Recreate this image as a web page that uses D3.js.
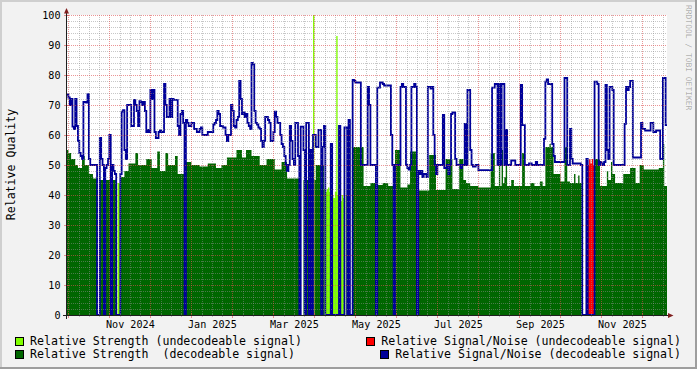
<!DOCTYPE html>
<html>
<head>
<meta charset="utf-8">
<script src="https://cdn.jsdelivr.net/npm/d3@7"></script>
<style>
  html, body { margin: 0; padding: 0; background: #f2f2f2; }
  svg { display: block; }
  text { font-family: "DejaVu Sans Mono", monospace; white-space: pre; }
</style>
</head>
<body>
<script>
// day offsets from 2024-10-01, each run holds until the next one starts
var strengthUndecoded = [[0,0],[37,44],[39,0],[180,100],[181,0],[186,45],[187,0],[188,42],[189,41],[190,42],[191,42.5],[192,41],[193,0],
  [194,40],[195,39],[196,41],[197,93],[198,40],[199,0],[200,38],[201,40],[202,39],[203,0],[204,40],[205,0],[239,20],[240,0]];

var snrUndecoded = [[0,0],[381,50],[382,52],[383,50.5],[384,52],[385,50],[386,0]];

var strengthDecoded = [[0,55],[1,54],[3,52],[6,50],[8,49],[11,53],[13,50],[16,47],[19,45.5],[22,0],[24,45],[27,0],[28,45],[32,0],[33,45],
  [36,0],[39,46],[42,48],[45,50.5],[50,54],[52,50],[58,52],[62,49],[66,54.5],[68,48],[72,54],[74,50],[79,53],[81,47],[86,0],[87,51],
  [91,50],[97,49.5],[103,50.5],[109,49],[113,50],[117,52.5],[124,55],[128,52.5],[131,55],[135,53],[141,50],[146,52],[152,48.5],[157,51],
  [161,45.5],[170,0],[173,45],[174,0],[175,45],[177,0],[178,45],[179,0],[181,45],[182,50],[186,0],[187,50],[188,0],[206,42],[207,0],
  [209,56],[217,43],[222,44],[226,0],[227,43.3],[231,44],[235,43],[239,0],[240,55],[244,42.5],[249,43.5],[251,54.5],[256,0],[257,41.5],
  [265,53.3],[270,41.7],[277,52],[282,42],[287,52],[290,45],[292,44],[295,43],[301,42.5],[310,54],[313,43],[316,50],[317,43],[318,55],
  [319,44],[320,46],[321,51],[322,43],[325,45],[327,43],[333,54],[335,43],[339,44],[342,43],[346,44.5],[348,43],[350,56],[353,57],
  [354,56],[356,47],[361,44.5],[364,56],[366,44.5],[368,44],[371,47],[372,44],[374,46.5],[375,44],[377,0],[386,52],[390,43],[395,48],
  [396,45],[398,51],[399,47],[401,44],[407,47],[412,49],[416,44],[419,50],[422,48.5],[433,49],[436,57],[437,43]];

var snrDecoded = [[0,73.5],[1,72.5],[2,70],[3,72],[4,62.8],[5,62],[6,72],[7,63],[8,58],[9,54],[10,53],[11,52],[12,71],[14,70.8],[15,73.6],
  [16,52],[17,50],[22,0],[24,59],[25,52],[26,50],[27,0],[28,49],[29,50],[30,52],[31,60],[32,0],[33,50],[34,48],[35,47],[36,0],[39,47],
  [40,67.8],[41,68.3],[42,55],[43,52],[44,70],[47,63],[49,71.7],[50,70],[51,68],[52,63],[53,71.3],[54,71],[55,70],[56,71],[57,68],
  [58,61],[59,61.7],[60,61],[61,75],[62,72],[63,75],[64,61],[65,59],[67,61],[68,61.5],[69,61],[71,77],[72,70],[73,66],[75,72],[76,66],
  [77,72],[78,71.7],[81,63],[82,60],[83,67],[84,68],[85,64],[86,0],[87,65],[88,64],[89,63],[91,64],[93,62],[95,61],[97,62],[98,62.5],
  [99,60],[103,61],[107,63.5],[108,64],[109,65],[110,68],[111,67],[112,63],[114,62.5],[116,60],[117,58],[118,60],[120,70],[121,68],
  [122,63],[123,62.5],[124,65],[125,66],[126,78],[127,72],[128,67],[129,67.5],[130,66],[131,67],[132,64],[133,63],[134,62],[135,84],
  [136,83.5],[137,68],[138,64],[139,63.5],[140,62.5],[141,62],[142,58],[143,56],[144,58],[145,66],[147,65],[148,64],[149,58],[151,61],
  [152,67.8],[153,66],[154,64],[156,60],[157,57],[158,56],[159,53],[160,50],[161,48],[162,50],[163,63],[164,58],[165,52],[166,50],
  [167,64],[169,53],[170,0],[171,62.8],[173,55],[174,0],[175,64],[177,0],[178,55],[179,0],[180,60],[182,56],[184,61.7],[186,0],[187,56],
  [188,63],[189,0],[193,57],[194,0],[199,63],[200,0],[203,62.5],[205,0],[206,65],[207,0],[209,78.4],[210,78],[211,77.5],[215,50],
  [220,76],[221,70],[222,50],[226,0],[227,75.8],[229,77.5],[231,77],[232,76.5],[237,60],[238,50],[239,0],[240,50],[244,76],[245,77],
  [246,76],[248,50],[249,49],[250,48.5],[251,50],[252,76],[254,77],[255,76],[256,0],[257,48],[258,47],[259,48],[260,46],[261,47],
  [263,46],[264,76],[266,75.5],[267,76],[268,60],[269,50],[270,47],[271,50],[275,66.7],[276,49],[278,50],[279,47],[280,50],[281,67],
  [282,67.5],[284,52],[285,50],[288,49],[289,50],[291,63.7],[292,50],[293,75],[295,55],[296,50],[297,49.5],[299,50],[301,48.3],
  [311,75.8],[313,77],[315,50],[316,77],[317,50],[318,77],[320,50],[321,61.7],[322,50],[325,51.5],[328,50],[332,76.7],[333,63.3],
  [335,50],[338,50.5],[340,50],[343,51],[344,50],[349,58.7],[350,77.8],[351,78.5],[352,77],[355,57],[356,53],[357,51],[364,79],
  [366,50],[368,62],[369,52],[370,50.5],[376,50],[377,0],[380,52],[381,0],[386,77.8],[388,77],[389,50],[390,51],[391,50.5],[392,50],
  [393,51],[394,76.7],[395,55],[396,52],[397,76],[399,75],[400,50],[408,63.7],[409,76],[410,75],[411,76],[412,78],[414,52.5],[420,64],
  [421,62],[423,61.5],[427,64],[429,61],[431,61.5],[434,52],[436,79],[438,63.3]];

var yTicks = d3.range(0, 101, 10);
var xLabelDays = [46, 106, 166, 226, 286, 346, 406];
var legendRows = [
  [["Relative Strength (undecodeable signal)", "#80ff00"], ["Relative Signal/Noise (undecodeable signal)", "#ff0000"]],
  [["Relative Strength  (decodeable signal)", "#006600"], ["Relative Signal/Noise (decodeable signal)", "#000099"]]
];

var W = 697, H = 369;
var nDays = 439;
var start = new Date(Date.UTC(2024, 9, 1));
var end = d3.utcDay.offset(start, nDays);

function expand(runs) {
  var out = [];
  runs.forEach(function(r, i) {
    var to = i + 1 < runs.length ? runs[i + 1][0] : nDays;
    for (var d = r[0]; d < to; d++) out.push({ date: d3.utcDay.offset(start, d), v: r[1] });
  });
  out.push({ date: end, v: out[out.length - 1].v });
  return out;
}

var x = d3.scaleUtc().domain([start, end]).range([67, 667]);
var y = d3.scaleLinear().domain([0, 100]).range([315, 15]);

var svg = d3.select("body").append("svg").attr("width", W).attr("height", H);
svg.append("rect").attr("width", W).attr("height", H).attr("fill", "#f2f2f2");
svg.append("rect").attr("width", W).attr("height", 2).attr("fill", "#cfcfcf");
svg.append("rect").attr("width", 2).attr("height", H).attr("fill", "#cfcfcf");
svg.append("rect").attr("y", H - 2).attr("width", W).attr("height", 2).attr("fill", "#9e9e9e");
svg.append("rect").attr("x", W - 2).attr("width", 2).attr("height", H).attr("fill", "#9e9e9e");

svg.append("rect").attr("x", 67).attr("y", 15).attr("width", 600).attr("height", 300).attr("fill", "#ffffff");

var area = d3.area().curve(d3.curveStepAfter)
  .x(function(d) { return x(d.date); })
  .y0(y(0))
  .y1(function(d) { return y(d.v); });

svg.append("path").datum(expand(strengthUndecoded)).attr("d", area).attr("fill", "#80ff00");
svg.append("path").datum(expand(snrUndecoded)).attr("d", area).attr("fill", "#ff0000");
svg.append("path").datum(expand(strengthDecoded)).attr("d", area).attr("fill", "#006600");

var line = d3.line().curve(d3.curveStepAfter)
  .x(function(d) { return x(d.date); })
  .y(function(d) { return y(d.v); });
svg.append("path").datum(expand(snrDecoded)).attr("d", line)
  .attr("fill", "none").attr("stroke", "#000099").attr("stroke-width", 1.8);

// grid on top, as rrdtool does
var gridCol = "rgba(143,143,143,0.5)", mgridCol = "rgba(222,79,79,0.6)";
var minorDays = d3.range(1, nDays, 7.5).filter(function(d) { return (d - 1) % 30 !== 0; });
var majorDays = d3.range(1, nDays, 30);
function dayX(d) { return Math.round(x(new Date(start.getTime() + d * 864e5))) + 0.5; }
var grid = svg.append("g").attr("stroke-dasharray", "1,1").attr("shape-rendering", "crispEdges");
d3.range(2, 100, 2).filter(function(v) { return v % 10 !== 0; }).forEach(function(v) {
  grid.append("line").attr("x1", 67).attr("x2", 667).attr("y1", y(v) + 0.5).attr("y2", y(v) + 0.5).attr("stroke", gridCol);
});
minorDays.forEach(function(d) {
  grid.append("line").attr("x1", dayX(d)).attr("x2", dayX(d)).attr("y1", 15).attr("y2", 315).attr("stroke", gridCol);
});
yTicks.slice(1).forEach(function(v) {
  grid.append("line").attr("x1", 67).attr("x2", 667).attr("y1", y(v) + 0.5).attr("y2", y(v) + 0.5).attr("stroke", mgridCol);
});
majorDays.forEach(function(d) {
  grid.append("line").attr("x1", dayX(d)).attr("x2", dayX(d)).attr("y1", 15).attr("y2", 315).attr("stroke", mgridCol);
});

// tick marks
var ticks = svg.append("g").attr("shape-rendering", "crispEdges");
minorDays.forEach(function(d) {
  ticks.append("line").attr("x1", dayX(d)).attr("x2", dayX(d)).attr("y1", 314).attr("y2", 317).attr("stroke", gridCol);
});
majorDays.forEach(function(d) {
  ticks.append("line").attr("x1", dayX(d)).attr("x2", dayX(d)).attr("y1", 313).attr("y2", 318).attr("stroke", mgridCol);
});
yTicks.forEach(function(v) {
  ticks.append("line").attr("x1", 64).attr("x2", 69).attr("y1", y(v) + 0.5).attr("y2", y(v) + 0.5).attr("stroke", mgridCol);
});

// axes
svg.append("line").attr("x1", 63).attr("x2", 670).attr("y1", 315.5).attr("y2", 315.5)
  .attr("stroke", "#1f1f1f").attr("shape-rendering", "crispEdges");
svg.append("line").attr("x1", 66.5).attr("x2", 66.5).attr("y1", 319).attr("y2", 11)
  .attr("stroke", "#1f1f1f").attr("shape-rendering", "crispEdges");
svg.append("path").attr("d", "M64,13.5L69,13.5L66.5,8Z").attr("fill", "#801f1f");
svg.append("path").attr("d", "M668,313L668,318L673.5,315.5Z").attr("fill", "#801f1f");

var xAxis = d3.axisBottom(x)
  .tickValues(xLabelDays.map(function(d) { return d3.utcDay.offset(start, d); }))
  .tickFormat(d3.utcFormat("%b %Y")).tickSize(0);
svg.append("g").attr("transform", "translate(0,315)").call(xAxis)
  .call(function(g) { g.select(".domain").remove(); })
  .call(function(g) {
    g.selectAll("text").attr("y", 12.5).attr("dy", null)
      .attr("font-family", "DejaVu Sans Mono").attr("font-size", 10.13).attr("fill", "#000");
  });

var yAxis = d3.axisLeft(y).tickValues(yTicks).tickSize(0).tickPadding(6.5);
svg.append("g").attr("transform", "translate(67,0)").call(yAxis)
  .call(function(g) { g.select(".domain").remove(); })
  .call(function(g) {
    g.selectAll("text").attr("font-family", "DejaVu Sans Mono").attr("font-size", 10.13).attr("fill", "#000");
  });

svg.append("text").attr("transform", "translate(15,164.5) rotate(-90)")
  .attr("text-anchor", "middle").attr("font-size", 11.58).attr("fill", "#000").text("Relative Quality");

svg.append("text").attr("transform", "translate(685.5,5) rotate(90)")
  .attr("font-size", 7.96).attr("fill", "rgba(0,0,0,0.3)").text("RRDTOOL / TOBI OETIKER");

// legend
var rowBase = [344.5, 358];
legendRows.forEach(function(row, ri) {
  row.forEach(function(item, ci) {
    var t = svg.append("text").attr("y", rowBase[ri]).attr("font-size", 11.58).attr("fill", "#000").text(item[0]);
    var tx = 30;
    if (ci === 1) {
      tx = 681 - t.node().getComputedTextLength();
    }
    t.attr("x", tx);
    svg.append("rect").attr("x", tx - 14.5).attr("y", rowBase[ri] - 7.5).attr("width", 8).attr("height", 8)
      .attr("fill", item[1]).attr("stroke", "#000").attr("stroke-width", 1).attr("shape-rendering", "crispEdges");
  });
});
</script>
</body>
</html>
